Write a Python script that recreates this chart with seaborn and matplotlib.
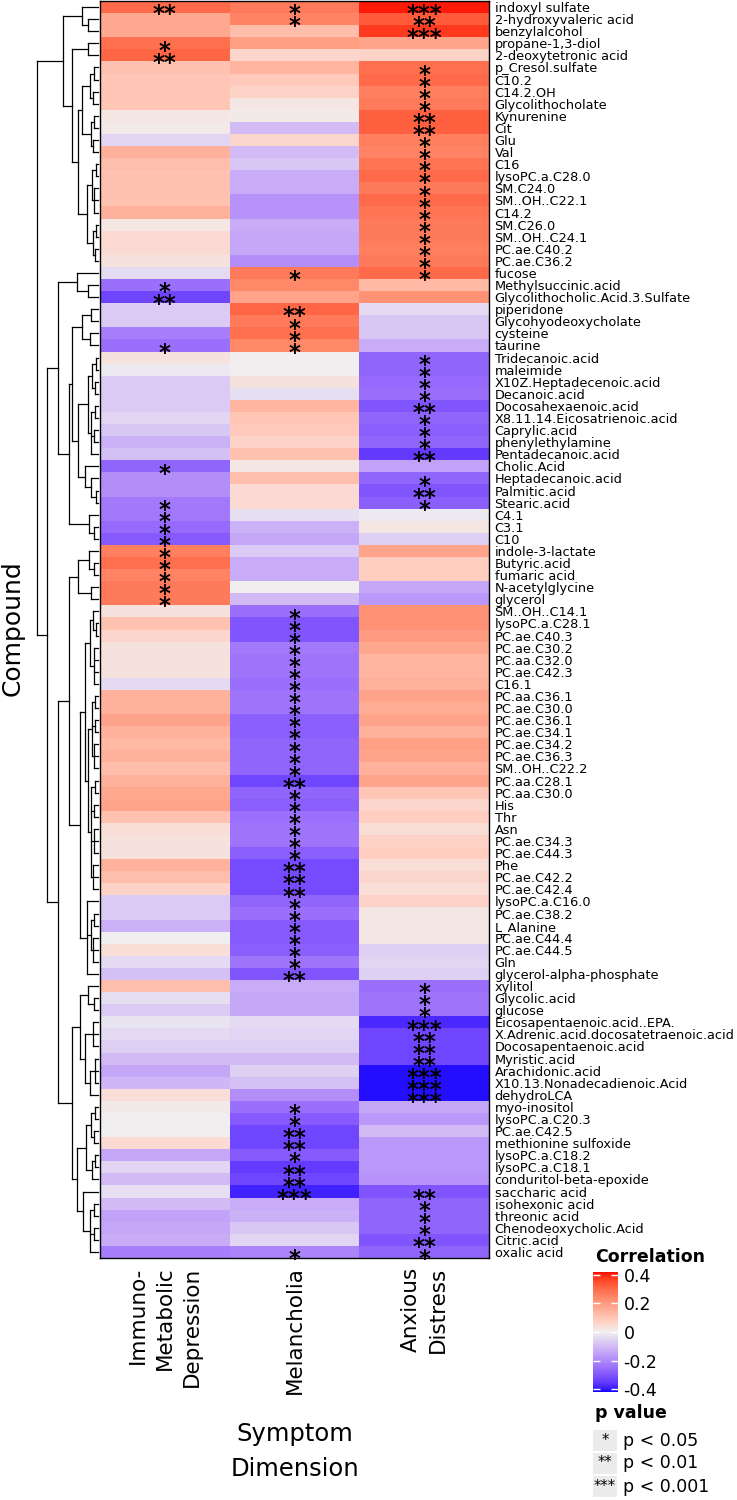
import numpy as np
import pandas as pd
import matplotlib
matplotlib.use('Agg')
import matplotlib.pyplot as plt
import seaborn as sns
from matplotlib.colors import LinearSegmentedColormap
from matplotlib.transforms import ScaledTranslation
from matplotlib.patches import Rectangle

plt.rcParams['font.family'] = ['DejaVu Sans']

# ---- data ----
compounds = [
    'indoxyl sulfate', '2-hydroxyvaleric acid', 'benzylalcohol', 'propane-1,3-diol', '2-deoxytetronic acid',
    'p_Cresol.sulfate', 'C10.2', 'C14.2.OH', 'Glycolithocholate', 'Kynurenine',
    'Cit', 'Glu', 'Val', 'C16', 'lysoPC.a.C28.0',
    'SM.C24.0', 'SM..OH..C22.1', 'C14.2', 'SM.C26.0', 'SM..OH..C24.1',
    'PC.ae.C40.2', 'PC.ae.C36.2', 'fucose', 'Methylsuccinic.acid', 'Glycolithocholic.Acid.3.Sulfate',
    'piperidone', 'Glycohyodeoxycholate', 'cysteine', 'taurine', 'Tridecanoic.acid',
    'maleimide', 'X10Z.Heptadecenoic.acid', 'Decanoic.acid', 'Docosahexaenoic.acid', 'X8.11.14.Eicosatrienoic.acid',
    'Caprylic.acid', 'phenylethylamine', 'Pentadecanoic.acid', 'Cholic.Acid', 'Heptadecanoic.acid',
    'Palmitic.acid', 'Stearic.acid', 'C4.1', 'C3.1', 'C10',
    'indole-3-lactate', 'Butyric.acid', 'fumaric acid', 'N-acetylglycine', 'glycerol',
    'SM..OH..C14.1', 'lysoPC.a.C28.1', 'PC.ae.C40.3', 'PC.ae.C30.2', 'PC.aa.C32.0',
    'PC.ae.C42.3', 'C16.1', 'PC.aa.C36.1', 'PC.ae.C30.0', 'PC.ae.C36.1',
    'PC.ae.C34.1', 'PC.ae.C34.2', 'PC.ae.C36.3', 'SM..OH..C22.2', 'PC.aa.C28.1',
    'PC.aa.C30.0', 'His', 'Thr', 'Asn', 'PC.ae.C34.3',
    'PC.ae.C44.3', 'Phe', 'PC.ae.C42.2', 'PC.ae.C42.4', 'lysoPC.a.C16.0',
    'PC.ae.C38.2', 'L_Alanine', 'PC.ae.C44.4', 'PC.ae.C44.5', 'Gln',
    'glycerol-alpha-phosphate', 'xylitol', 'Glycolic.acid', 'glucose', 'Eicosapentaenoic.acid..EPA.',
    'X.Adrenic.acid.docosatetraenoic.acid', 'Docosapentaenoic.acid', 'Myristic.acid', 'Arachidonic.acid',
    'X10.13.Nonadecadienoic.Acid',
    'dehydroLCA', 'myo-inositol', 'lysoPC.a.C20.3', 'PC.ae.C42.5', 'methionine sulfoxide',
    'lysoPC.a.C18.2', 'lysoPC.a.C18.1', 'conduritol-beta-epoxide', 'saccharic acid', 'isohexonic acid',
    'threonic acid', 'Chenodeoxycholic.Acid', 'Citric.acid', 'oxalic acid']

dimensions = ['Immuno-\nMetabolic\nDepression', 'Melancholia', 'Anxious\nDistress']

imd = [0.30, 0.17, 0.17, 0.29, 0.31, 0.11, 0.10, 0.10, 0.10, 0.02,
       0.01, -0.05, 0.15, 0.12, 0.11, 0.11, 0.11, 0.15, 0.02, 0.05,
       0.05, 0.03, -0.04, -0.25, -0.33, -0.07, -0.07, -0.22, -0.25, 0.03,
       -0.01, -0.07, -0.07, -0.07, -0.05, -0.08, -0.12, -0.09, -0.27, -0.19,
       -0.19, -0.23, -0.23, -0.26, -0.29, 0.26, 0.29, 0.25, 0.27, 0.27,
       0.03, 0.11, 0.06, 0.03, 0.03, 0.03, -0.04, 0.15, 0.15, 0.18,
       0.15, 0.13, 0.15, 0.12, 0.15, 0.17, 0.18, 0.11, 0.04, 0.03,
       0.03, 0.15, 0.12, 0.07, -0.07, -0.07, -0.12, 0.00, 0.04, -0.04,
       -0.09, 0.12, -0.03, -0.07, -0.02, -0.04, -0.06, -0.10, -0.14, -0.11,
       0.04, 0.01, 0.00, 0.00, 0.05, -0.14, -0.05, -0.10, -0.03, -0.10,
       -0.15, -0.14, -0.13, -0.22]

mel = [0.27, 0.25, 0.12, 0.19, 0.06, 0.14, 0.09, 0.07, 0.02, 0.01,
       -0.10, 0.06, -0.10, -0.08, -0.13, -0.13, -0.18, -0.18, -0.13, -0.14,
       -0.14, -0.19, 0.27, 0.24, 0.18, 0.31, 0.27, 0.29, 0.24, 0.00,
       0.00, 0.03, -0.03, 0.14, 0.10, 0.09, 0.07, 0.11, 0.02, 0.12,
       0.05, 0.05, -0.03, -0.12, -0.14, -0.07, -0.13, -0.13, 0.00, -0.10,
       -0.25, -0.30, -0.30, -0.23, -0.24, -0.24, -0.25, -0.24, -0.24, -0.28,
       -0.28, -0.27, -0.27, -0.27, -0.33, -0.27, -0.28, -0.25, -0.24, -0.24,
       -0.28, -0.32, -0.32, -0.32, -0.27, -0.25, -0.29, -0.29, -0.28, -0.24,
       -0.30, -0.13, -0.14, -0.14, -0.04, -0.05, -0.06, -0.10, -0.06, -0.09,
       -0.19, -0.25, -0.29, -0.33, -0.33, -0.29, -0.35, -0.33, -0.39, -0.13,
       -0.12, -0.08, -0.05, -0.21]

anx = [0.41, 0.33, 0.38, 0.18, 0.07, 0.29, 0.30, 0.26, 0.27, 0.32,
       0.32, 0.26, 0.25, 0.28, 0.30, 0.27, 0.30, 0.28, 0.27, 0.27,
       0.26, 0.27, 0.30, 0.13, 0.22, -0.04, -0.08, -0.08, -0.13, -0.27,
       -0.27, -0.26, -0.25, -0.30, -0.27, -0.28, -0.27, -0.35, -0.15, -0.27,
       -0.30, -0.28, -0.01, 0.02, -0.06, 0.18, 0.08, 0.08, -0.14, -0.17,
       0.22, 0.22, 0.20, 0.17, 0.14, 0.14, 0.15, 0.18, 0.16, 0.18,
       0.15, 0.19, 0.18, 0.15, 0.18, 0.10, 0.06, 0.08, 0.04, 0.07,
       0.08, 0.04, 0.06, 0.04, 0.07, 0.02, 0.02, 0.02, -0.06, -0.05,
       -0.06, -0.25, -0.24, -0.24, -0.38, -0.33, -0.33, -0.33, -0.41, -0.41,
       -0.41, -0.14, -0.17, -0.10, -0.17, -0.17, -0.17, -0.18, -0.30, -0.27,
       -0.27, -0.27, -0.30, -0.27]

E = ''
sig_imd = ['**', E, E, '*', '**', E, E, E, E, E,
           E, E, E, E, E, E, E, E, E, E,
           E, E, E, '*', '**', E, E, E, '*', E,
           E, E, E, E, E, E, E, E, '*', E,
           E, '*', '*', '*', '*', '*', '*', '*', '*', '*'] + [E] * 54

sig_mel = ['*', '*', E, E, E, E, E, E, E, E,
           E, E, E, E, E, E, E, E, E, E,
           E, E, '*', E, E, '**', '*', '*', '*', E,
           E, E, E, E, E, E, E, E, E, E,
           E, E, E, E, E, E, E, E, E, E,
           '*', '*', '*', '*', '*', '*', '*', '*', '*', '*',
           '*', '*', '*', '*', '**', '*', '*', '*', '*', '*',
           '*', '**', '**', '**', '*', '*', '*', '*', '*', '*',
           '**', E, E, E, E, E, E, E, E, E,
           E, '*', '*', '**', '**', '*', '**', '**', '***', E,
           E, E, E, '*']

sig_anx = ['***', '**', '***', E, E, '*', '*', '*', '*', '**',
           '**', '*', '*', '*', '*', '*', '*', '*', '*', '*',
           '*', '*', '*', E, E, E, E, E, E, '*',
           '*', '*', '*', '**', '*', '*', '*', '**', E, '*',
           '**', '*', E, E, E, E, E, E, E, E,
           E, E, E, E, E, E, E, E, E, E,
           E, E, E, E, E, E, E, E, E, E,
           E, E, E, E, E, E, E, E, E, E,
           E, '*', '*', '*', '***', '**', '**', '**', '***', '***',
           '***', E, E, E, E, E, E, E, '**', '*',
           '*', '*', '**', '*']

# dendrogram: (height, [children]), leaves are row numbers (0 = top)
tree = (1.0, [
    (0.58, [
        (0.26, [0, (0.16, [1, 2])]),
        (0.43, [
            (0.17, [3, 4]),
            (0.33, [
                (0.26, [(0.14, [(0.06, [5, 6]), (0.08, [7, 8])]),
                        (0.12, [(0.07, [9, 10]), (0.09, [11, 12])])]),
                (0.18, [(0.10, [(0.04, [13, 14]), (0.06, [15, 16, 17])]),
                        (0.08, [(0.04, [18, 19]), (0.05, [20, 21])])]),
            ]),
        ]),
    ]),
    (0.84, [
        (0.65, [
            (0.35, [22, (0.17, [23, 24])]),
            (0.48, [
                (0.42, [
                    (0.26, [(0.12, [25, 26]), (0.13, [27, 28])]),
                    (0.33, [
                        (0.17, [(0.10, [(0.04, [29, 30]), (0.05, [31, 32])]),
                                (0.12, [(0.05, [33, 34]), (0.06, [35, 36]), 37])]),
                        (0.22, [38, (0.12, [39, (0.04, [40, 41])])]),
                    ]),
                ]),
                (0.15, [42, (0.07, [43, 44])]),
            ]),
        ]),
        (0.65, [
            (0.48, [
                (0.33, [(0.15, [45, (0.07, [46, 47])]), (0.12, [48, 49])]),
                (0.30, [
                    (0.22, [
                        (0.14, [(0.08, [50, (0.04, [51, 52])]), (0.07, [53, 54, 55, 56])]),
                        (0.17, [(0.10, [(0.05, [57, 58]), (0.05, [59, 60]), (0.06, [61, 62, 63])]),
                                (0.12, [(0.05, [64, 65]), (0.06, [66, 67]), (0.07, [68, 69, 70]),
                                        (0.08, [71, 72, 73])])]),
                    ]),
                    (0.18, [74, (0.12, [(0.06, [75, 76]), (0.08, [77, 78, 79])]), 80]),
                ]),
            ]),
            (0.42, [
                (0.29, [(0.16, [81, (0.07, [82, 83])]),
                        (0.22, [(0.09, [84, 85, 86]), (0.14, [(0.05, [87, 88, 89]), 90])])]),
                (0.35, [(0.20, [(0.12, [(0.05, [91, 92]), (0.06, [93, 94])]), (0.10, [(0.05, [95, 96]), 97])]),
                        (0.25, [98, (0.14, [(0.06, [99, 100]), (0.07, [101, 102]), 103])])]),
            ]),
        ]),
    ]),
])

# ---- colours: ggplot-like gradient2 interpolated in Lab ----
def lab_to_rgb(L, a, b):
    fy = (L + 16) / 116
    fx = fy + a / 500
    fz = fy - b / 200
    finv = lambda t: np.where(t > 6 / 29, t ** 3, 3 * (6 / 29) ** 2 * (t - 4 / 29))
    X, Y, Z = 0.95047 * finv(fx), finv(fy), 1.08883 * finv(fz)
    rgb = np.stack([3.2406 * X - 1.5372 * Y - 0.4986 * Z,
                    -0.9689 * X + 1.8758 * Y + 0.0415 * Z,
                    0.0557 * X - 0.2040 * Y + 1.0570 * Z], axis=-1)
    rgb = np.clip(rgb, 0, 1)
    return np.where(rgb <= 0.0031308, 12.92 * rgb, 1.055 * rgb ** (1 / 2.4) - 0.055)

lab_blue = np.array([32.30, 79.19, -107.86])
lab_mid = np.array([94.5, 0.0, 0.0])
lab_red = np.array([53.24, 80.09, 67.20])
t = np.linspace(-1, 1, 256)[:, None]
lab = np.where(t < 0, lab_mid + (-t) * (lab_blue - lab_mid), lab_mid + t * (lab_red - lab_mid))
cmap = LinearSegmentedColormap.from_list('gg2', lab_to_rgb(lab[:, 0], lab[:, 1], lab[:, 2]))

df = pd.DataFrame({dimensions[0]: imd, dimensions[1]: mel, dimensions[2]: anx}, index=compounds)
stars = pd.DataFrame({dimensions[0]: sig_imd, dimensions[1]: sig_mel, dimensions[2]: sig_anx}, index=compounds)

# ---- layout (pixels of a 737 x 1500 canvas) ----
W, H = 737, 1500
fig = plt.figure(figsize=(W / 100, H / 100), dpi=100)

def box(x0, y0, x1, y1):
    return [x0 / W, 1 - y1 / H, (x1 - x0) / W, (y1 - y0) / H]

ax = fig.add_axes(box(100, 1, 489, 1258))
cax = fig.add_axes(box(593, 1272, 618, 1392))

sns.heatmap(df, ax=ax, cmap=cmap, vmin=-0.42, vmax=0.42, cbar_ax=cax,
            xticklabels=True, yticklabels=True)

# significance stars
fs_star = 16.5
shift = ScaledTranslation(0, -0.62 * fs_star / 72, fig.dpi_scale_trans)
for i in range(len(compounds)):
    for j, col in enumerate(dimensions):
        s = stars.iloc[i, j]
        if s:
            ax.text(j + 0.5, i + 0.5, s, ha='center', va='baseline', fontsize=fs_star,
                    fontweight='bold', transform=ax.transData + shift)

ax.yaxis.tick_right()
ax.set_yticklabels(compounds, rotation=0, fontsize=9.3, ha='left')
ax.tick_params(axis='y', length=0, pad=4)
ax.set_xticklabels(dimensions, rotation=90, fontsize=15.5, va='top', ha='center',
                   linespacing=1.45, multialignment='right')
ax.tick_params(axis='x', length=0, pad=6)
ax.set_ylabel('')
ax.set_xlabel('Symptom\nDimension', fontsize=17.5, linespacing=1.6, labelpad=20)
for sp in ax.spines.values():
    sp.set_visible(True)
    sp.set_linewidth(1.0)
    sp.set_color('black')

fig.text(12.5 / W, 1 - 628 / H, 'Compound', rotation=90, ha='center', va='center', fontsize=18)

# ---- dendrogram ----
dax = fig.add_axes(box(37, 1, 100, 1258))
dax.set_xlim(1.0, -0.03)
dax.set_ylim(len(compounds), 0)
dax.axis('off')

def draw(node):
    if isinstance(node, int):
        return node + 0.5, 0.0
    h, kids = node
    pts = [draw(k) for k in kids]
    ys = [p[0] for p in pts]
    dax.plot([h, h], [min(ys), max(ys)], color='black', lw=0.9, clip_on=False)
    for y, hk in pts:
        dax.plot([h, hk], [y, y], color='black', lw=0.9, clip_on=False)
    return (min(ys) + max(ys)) / 2, h

draw(tree)

# ---- colour bar legend ----
cbar = ax.collections[0].colorbar
cbar.set_ticks([0.4, 0.2, 0, -0.2, -0.4])
cbar.set_ticklabels(['0.4', '0.2', '0', '-0.2', '-0.4'])
cbar.outline.set_visible(False)
cax.tick_params(axis='y', direction='in', color='white', length=5, width=1,
                left=True, right=True, labelsize=12.5, pad=4)
fig.text(595 / W, 1 - 1257 / H, 'Correlation', fontsize=12.5, weight='bold', va='center')
fig.text(595 / W, 1 - 1413 / H, 'p value', fontsize=12.5, weight='bold', va='center')

# ---- p value legend ----
p_keys = ['*', '**', '***']
p_labels = ['p < 0.05', 'p < 0.01', 'p < 0.001']
lax = fig.add_axes(box(593, 1429, 710, 1498))
lax.set_xlim(0, 117)
lax.set_ylim(69, 0)
lax.axis('off')
for k, (s, lab_txt) in enumerate(zip(p_keys, p_labels)):
    y0 = k * 23
    lax.add_patch(Rectangle((0, y0 + 0.5), 24, 21.5, color='#EBEBEB', lw=0))
    lax.text(12, y0 + 11, s, ha='center', va='center', fontsize=10.5)
    lax.text(30, y0 + 11.5, lab_txt, ha='left', va='center', fontsize=12.5)

fig.savefig('out.png', dpi=100)
